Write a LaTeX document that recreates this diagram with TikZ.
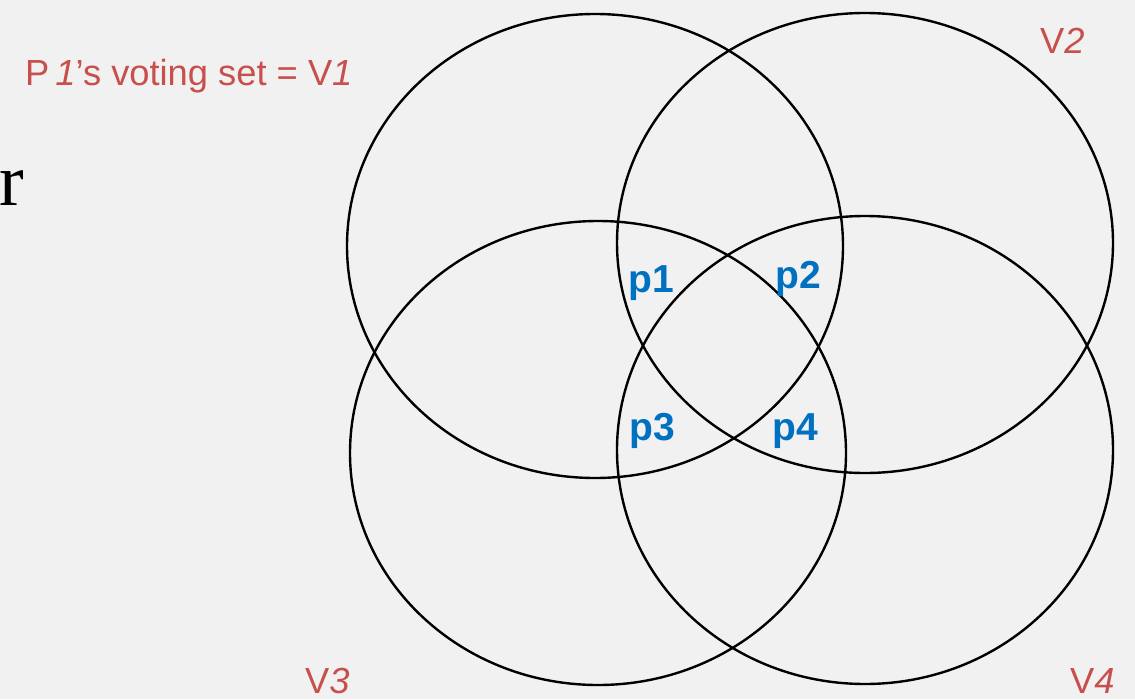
\documentclass[tikz,border=0pt]{standalone}
\usepackage{fontspec}
\setmainfont{Liberation Sans}
\newfontfamily\serifr{Liberation Serif}
\definecolor{bgc}{RGB}{241,241,241}
\definecolor{redt}{RGB}{199,80,76}
\definecolor{bluet}{RGB}{0,112,192}
\begin{document}
\begin{tikzpicture}[x=1pt,y=-1pt,
  vset/.style={draw=black,line width=2.4pt},
  redlbl/.style={text=redt,font=\fontsize{36.3}{42}\selectfont,inner sep=0pt},
  plbl/.style={text=bluet,font=\fontsize{39}{44}\selectfont\bfseries,inner sep=0pt,anchor=base}]
\fill[bgc] (0,0) rectangle (1135,699);
\useasboundingbox (0,0) rectangle (1135,699);
\draw[vset] (595,246) ellipse [x radius=248, y radius=232];
\draw[vset] (865,243) ellipse [x radius=248, y radius=230];
\draw[vset] (598,453) ellipse [x radius=248, y radius=232];
\draw[vset] (865,450) ellipse [x radius=248, y radius=234];
\node[redlbl,anchor=base west] (title) at (25,85) {P\,\textit{1}’s voting set = V\textit{1}};
\node[redlbl,anchor=base west] (v2) at (1040,53) {V\textit{2}};
\node[redlbl,anchor=base west,text depth=0pt] (v3) at (305,693) {V\textit{3}};
\node[redlbl,anchor=base west,text depth=0pt] (v4) at (1070,693) {V\textit{4}};
\node[plbl] (p1) at (651,292) {p1};
\node[plbl] (p2) at (798,288) {p2};
\node[plbl] (p3) at (652,440) {p3};
\node[plbl] (p4) at (795,440) {p4};
\node[anchor=base west,inner sep=0pt,font=\serifr\fontsize{74}{80}\selectfont] (r) at (-1,205) {r};
\end{tikzpicture}
\end{document}
